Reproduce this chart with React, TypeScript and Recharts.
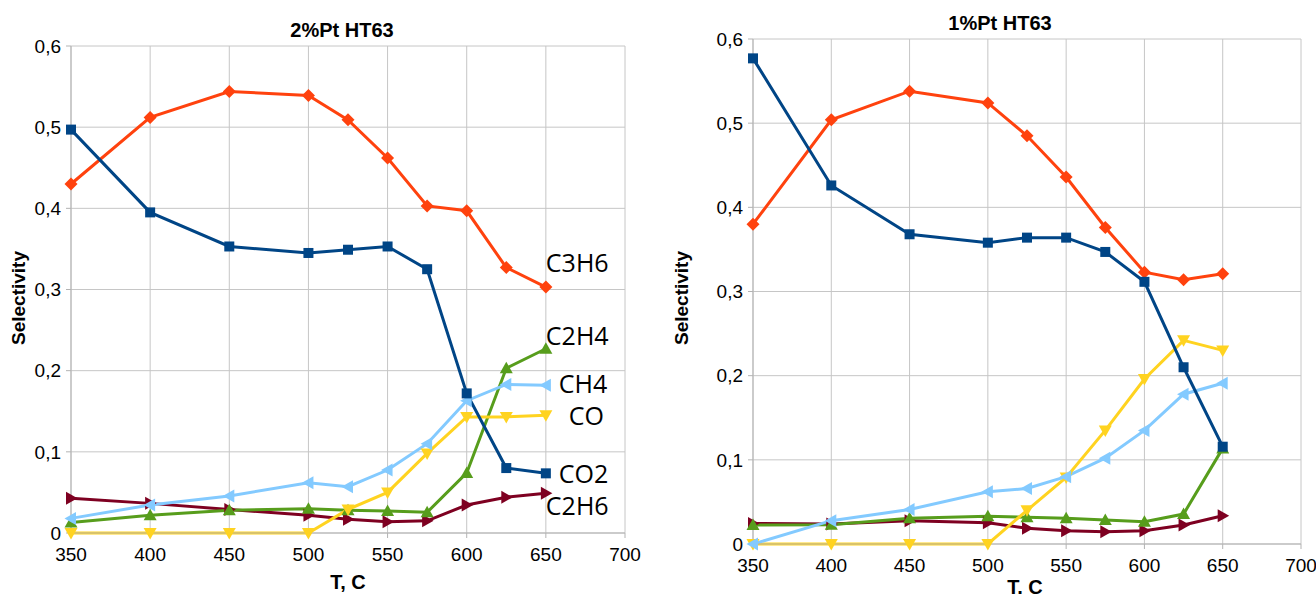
import React from 'react';
import { LineChart, Line, XAxis, YAxis, CartesianGrid, LabelList, Customized } from 'recharts';

const temps = [350, 400, 450, 500, 525, 550, 575, 600, 625, 650];
const xTicks = [350, 400, 450, 500, 550, 600, 650, 700];
const yTicks = [0, 0.1, 0.2, 0.3, 0.4, 0.5, 0.6];

// 2%Pt HT63
const left_C3H6 = [0.430, 0.512, 0.544, 0.539, 0.509, 0.462, 0.403, 0.397, 0.327, 0.303];
const left_CO2 = [0.497, 0.395, 0.353, 0.345, 0.349, 0.353, 0.325, 0.172, 0.080, 0.0735];
const left_C2H4 = [0.013, 0.022, 0.028, 0.030, 0.028, 0.027, 0.0255, 0.074, 0.203, 0.227];
const left_CH4 = [0.018, 0.0345, 0.0456, 0.062, 0.057, 0.0776, 0.110, 0.163, 0.183, 0.182];
const left_CO = [0, 0, 0, 0, 0.029, 0.050, 0.098, 0.143, 0.143, 0.145];
const left_C2H6 = [0.0427, 0.0365, 0.029, 0.022, 0.0168, 0.014, 0.015, 0.0345, 0.044, 0.049];

// 1%Pt HT63
const right_C3H6 = [0.380, 0.504, 0.538, 0.524, 0.485, 0.436, 0.376, 0.323, 0.314, 0.321];
const right_CO2 = [0.577, 0.426, 0.368, 0.358, 0.364, 0.364, 0.347, 0.3115, 0.210, 0.1156];
const right_C2H4 = [0.0226, 0.023, 0.0305, 0.033, 0.0317, 0.0305, 0.0285, 0.0265, 0.0356, 0.1136];
const right_CH4 = [0, 0.0277, 0.041, 0.062, 0.066, 0.080, 0.102, 0.135, 0.178, 0.191];
const right_CO = [0, 0, 0, 0, 0.040, 0.079, 0.135, 0.196, 0.242, 0.230];
const right_C2H6 = [0.0245, 0.0238, 0.0277, 0.0253, 0.0186, 0.0158, 0.0146, 0.0158, 0.0226, 0.0336];

const seriesNames = ['C2H6', 'C2H4', 'CO', 'CH4', 'C3H6', 'CO2'];

const styles: Record<string, { color: string; shape: string; dx: number; dy: number }> = {
  C2H6: { color: '#7e0021', shape: 'right', dx: 0, dy: 22 },
  C2H4: { color: '#579d1c', shape: 'up', dx: 0, dy: -4 },
  CO: { color: '#ffd320', shape: 'down', dx: 23, dy: 10 },
  CH4: { color: '#83caff', shape: 'left', dx: 13, dy: 8 },
  C3H6: { color: '#ff420e', shape: 'diamond', dx: 0, dy: -15 },
  CO2: { color: '#004586', shape: 'square', dx: 13, dy: 10 },
};

function build(series: Record<string, number[]>) {
  return temps.map((t, i) => {
    const row: Record<string, number> = { t };
    Object.keys(series).forEach((k) => (row[k] = series[k][i]));
    return row;
  });
}

const leftData = build({ C3H6: left_C3H6, CO2: left_CO2, C2H4: left_C2H4, CH4: left_CH4, CO: left_CO, C2H6: left_C2H6 });
const rightData = build({ C3H6: right_C3H6, CO2: right_CO2, C2H4: right_C2H4, CH4: right_CH4, CO: right_CO, C2H6: right_C2H6 });

function Marker({ cx, cy, color, shape }: any) {
  if (cx == null || cy == null) return null;
  let pts = '';
  switch (shape) {
    case 'square':
      return <rect x={cx - 5} y={cy - 5} width={10} height={10} fill={color} />;
    case 'diamond':
      pts = `${cx},${cy - 6.5} ${cx + 6.5},${cy} ${cx},${cy + 6.5} ${cx - 6.5},${cy}`;
      break;
    case 'up':
      pts = `${cx},${cy - 6.5} ${cx + 6.5},${cy + 5} ${cx - 6.5},${cy + 5}`;
      break;
    case 'down':
      pts = `${cx - 6.5},${cy - 5} ${cx + 6.5},${cy - 5} ${cx},${cy + 6.5}`;
      break;
    case 'right':
      pts = `${cx - 5},${cy - 6.5} ${cx + 6.5},${cy} ${cx - 5},${cy + 6.5}`;
      break;
    case 'left':
      pts = `${cx + 5},${cy - 6.5} ${cx - 6.5},${cy} ${cx + 5},${cy + 6.5}`;
      break;
  }
  return <polygon points={pts} fill={color} />;
}

const FONT = '"Liberation Sans", Arial, sans-serif';
const fmt = (v: number) => (v === 0 ? '0' : v.toFixed(1).replace('.', ','));

type ChartProps = {
  data: any[];
  width: number;
  top: number;
  right: number;
  bottom: number;
  left: number;
  title: string;
  titleX: number;
  titleY: number;
  yLabelX: number;
  yLabelY: number;
  xLabelX: number;
  xLabelY: number;
  showLabels: boolean;
};

function Panel(p: ChartProps) {
  return (
    <LineChart width={p.width} height={594} data={p.data} margin={{ top: p.top, right: p.right, bottom: 0, left: 0 }}>
      <CartesianGrid stroke="#c6c6c6" strokeWidth={1} />
      <XAxis
        dataKey="t"
        type="number"
        domain={[350, 700]}
        ticks={xTicks}
        interval={0}
        height={p.bottom}
        stroke="#b3b3b3"
        tickSize={5}
        tickMargin={10}
        tick={{ fill: '#000', fontSize: 19, fontFamily: FONT }}
      />
      <YAxis
        type="number"
        domain={[0, 0.6]}
        ticks={yTicks}
        interval={0}
        width={p.left}
        stroke="#b3b3b3"
        tickSize={5}
        tickMargin={5}
        tickFormatter={fmt}
        tick={{ fill: '#000', fontSize: 19, fontFamily: FONT }}
      />
      {seriesNames.map((name) => {
        const st = styles[name];
        return (
          <Line
            key={name}
            dataKey={name}
            stroke={st.color}
            strokeWidth={3}
            isAnimationActive={false}
            dot={(d: any) => <Marker key={`${name}-${d.index}`} cx={d.cx} cy={d.cy} color={st.color} shape={st.shape} />}
            activeDot={false}
          >
            {p.showLabels && (
              <LabelList
                dataKey={name}
                content={(lp: any) =>
                  lp.index === temps.length - 1 ? (
                    <text
                      x={lp.x + st.dx}
                      y={lp.y + st.dy}
                      fontSize={25}
                      fontFamily='"Open Sans", sans-serif'
                      fill="#000"
                    >
                      {name}
                    </text>
                  ) : null
                }
              />
            )}
          </Line>
        );
      })}
      <Customized
        component={() => (
          <g>
            <text x={p.titleX} y={p.titleY} textAnchor="middle" fontSize={20} fontWeight="bold" fontFamily={FONT} fill="#000">
              {p.title}
            </text>
            <text
              x={p.yLabelX}
              y={p.yLabelY}
              textAnchor="middle"
              fontSize={19}
              fontWeight="bold"
              fontFamily={FONT}
              fill="#000"
              transform={`rotate(-90 ${p.yLabelX} ${p.yLabelY})`}
            >
              Selectivity
            </text>
            <text x={p.xLabelX} y={p.xLabelY} textAnchor="middle" fontSize={20} fontWeight="bold" fontFamily={FONT} fill="#000">
              T, C
            </text>
          </g>
        )}
      />
    </LineChart>
  );
}

export default function App() {
  return (
    <div style={{ position: 'absolute', left: 0, top: 0, width: 1316, height: 594, background: '#fff', overflow: 'hidden' }}>
      <div style={{ position: 'absolute', left: 0, top: 0 }}>
        <Panel
          data={leftData}
          width={656}
          top={46}
          right={31}
          bottom={61}
          left={71}
          title="2%Pt HT63"
          titleX={342}
          titleY={37}
          yLabelX={25}
          yLabelY={298}
          xLabelX={348}
          xLabelY={589}
          showLabels={true}
        />
      </div>
      <div style={{ position: 'absolute', left: 656, top: 0 }}>
        <Panel
          data={rightData}
          width={660}
          top={39}
          right={15}
          bottom={50}
          left={97}
          title="1%Pt HT63"
          titleX={344}
          titleY={30}
          yLabelX={32}
          yLabelY={298}
          xLabelX={369}
          xLabelY={594}
          showLabels={false}
        />
      </div>
    </div>
  );
}
